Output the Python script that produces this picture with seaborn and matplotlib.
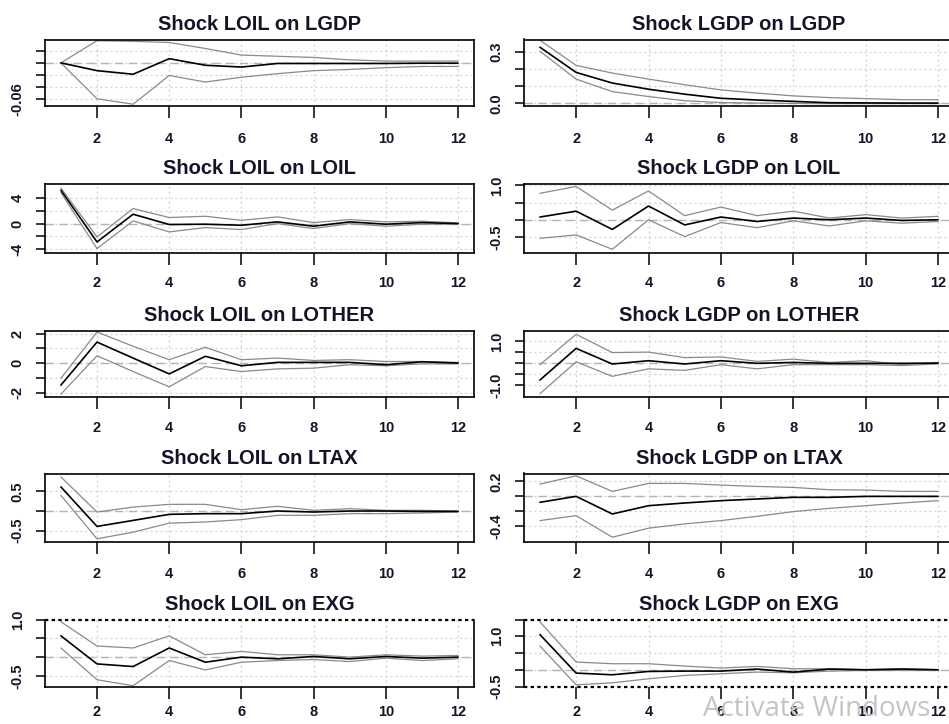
import matplotlib
matplotlib.use("Agg")
import matplotlib.pyplot as plt
import seaborn as sns

# Impulse responses (point estimate + lower/upper bands), horizons 1..12
horizon = list(range(1, 13))

loil_lgdp = [0.0, -0.013, -0.019, 0.007, -0.004, -0.007, -0.001, -0.001, -0.001, -0.001, -0.0005, -0.0005]
loil_lgdp_lo = [0.0, -0.060, -0.069, -0.021, -0.032, -0.024, -0.018, -0.013, -0.011, -0.008, -0.006, -0.006]
loil_lgdp_hi = [0.0, 0.037, 0.036, 0.034, 0.024, 0.013, 0.011, 0.009, 0.005, 0.003, 0.003, 0.003]

lgdp_lgdp = [0.327, 0.180, 0.118, 0.082, 0.053, 0.029, 0.019, 0.011, 0.003, 0.002, 0.001, 0.001]
lgdp_lgdp_lo = [0.304, 0.141, 0.068, 0.039, 0.015, 0.004, 0.001, -0.001, -0.002, -0.002, -0.002, -0.002]
lgdp_lgdp_hi = [0.368, 0.221, 0.176, 0.141, 0.108, 0.078, 0.059, 0.043, 0.033, 0.027, 0.021, 0.021]

loil_loil = [5.15, -2.84, 1.44, -0.15, -0.10, -0.26, 0.26, -0.41, 0.26, -0.10, 0.15, 0.0]
loil_loil_lo = [4.80, -3.87, 0.41, -1.29, -0.62, -0.93, 0.0, -0.77, 0.0, -0.41, -0.10, -0.10]
loil_loil_hi = [5.50, -2.06, 2.32, 0.93, 1.13, 0.50, 1.03, 0.15, 0.62, 0.26, 0.36, 0.10]

lgdp_loil = [0.08, 0.25, -0.28, 0.40, -0.15, 0.08, -0.05, 0.05, 0.0, 0.05, -0.02, 0.0]
lgdp_loil_lo = [-0.54, -0.44, -0.86, 0.0, -0.49, -0.08, -0.23, -0.03, -0.18, -0.03, -0.10, -0.05]
lgdp_loil_hi = [0.77, 0.97, 0.28, 0.84, 0.12, 0.37, 0.12, 0.25, 0.05, 0.15, 0.05, 0.10]

loil_lother = [-1.49, 1.42, 0.34, -0.73, 0.46, -0.18, 0.05, 0.05, 0.05, -0.11, 0.09, 0.0]
loil_lother_lo = [-2.10, 0.50, -0.57, -1.60, -0.23, -0.57, -0.39, -0.34, -0.11, -0.18, -0.05, -0.05]
loil_lother_hi = [-1.03, 2.10, 1.14, 0.23, 1.07, 0.23, 0.34, 0.18, 0.23, 0.11, 0.11, 0.05]

lgdp_lother = [-0.76, 0.68, -0.03, 0.12, -0.03, 0.12, 0.0, 0.04, 0.0, 0.0, 0.0, 0.01]
lgdp_lother_lo = [-1.38, 0.07, -0.59, -0.25, -0.32, -0.06, -0.25, -0.06, -0.06, -0.06, -0.10, -0.03]
lgdp_lother_hi = [-0.06, 1.32, 0.49, 0.51, 0.26, 0.29, 0.09, 0.19, 0.04, 0.12, -0.06, 0.04]

loil_ltax = [0.615, -0.393, -0.24, -0.085, -0.068, -0.068, 0.0, -0.026, 0.0, 0.0, -0.01, -0.01]
loil_ltax_lo = [0.40, -0.71, -0.54, -0.31, -0.28, -0.22, -0.11, -0.11, -0.068, -0.068, -0.05, -0.026]
loil_ltax_hi = [0.87, -0.026, 0.10, 0.17, 0.17, 0.034, 0.12, 0.017, 0.06, 0.017, 0.017, 0.0]

lgdp_ltax = [-0.079, 0.0, -0.234, -0.124, -0.088, -0.057, -0.035, -0.013, -0.013, 0.0, 0.0, 0.0]
lgdp_ltax_lo = [-0.322, -0.256, -0.543, -0.423, -0.366, -0.322, -0.265, -0.203, -0.159, -0.124, -0.088, -0.057]
lgdp_ltax_hi = [0.163, 0.273, 0.066, 0.172, 0.172, 0.150, 0.132, 0.119, 0.088, 0.084, 0.066, 0.066]

loil_exg = [0.566, -0.18, -0.25, 0.243, -0.135, 0.0, -0.045, 0.018, -0.045, 0.018, -0.027, 0.0]
loil_exg_lo = [0.243, -0.60, -0.76, -0.09, -0.34, -0.135, -0.09, -0.063, -0.117, -0.027, -0.09, -0.045]
loil_exg_hi = [0.94, 0.296, 0.243, 0.566, 0.063, 0.153, 0.063, 0.063, 0.0, 0.063, 0.027, 0.045]

lgdp_exg = [1.05, -0.10, -0.15, -0.05, -0.04, -0.04, 0.02, -0.07, 0.02, 0.0, 0.02, 0.0]
lgdp_exg_lo = [0.71, -0.45, -0.39, -0.27, -0.17, -0.12, -0.07, -0.09, -0.04, -0.02, -0.02, -0.02]
lgdp_exg_hi = [1.43, 0.23, 0.18, 0.18, 0.11, 0.05, 0.10, 0.03, 0.03, 0.0, 0.03, 0.0]

sns.set_style("white")
plt.rcParams["font.family"] = ["Liberation Sans", "DejaVu Sans"]

W, H = 949, 724
fig = plt.figure(figsize=(W / 100, H / 100), dpi=100)

# column pixel extents (right column runs off the canvas like the screenshot)
cols = [(45, 474), (524, 954)]
rows = [(39.5, 106), (183.5, 253), (331, 397), (473.5, 541.5), (619.5, 686.5)]
xpads = [10, 8, 9, 10, 5]

panels = [
    # (title, mid, lo, hi, ylim, yticks, ylabels, dotted, row, col)
    ("Shock LOIL on LGDP", loil_lgdp, loil_lgdp_lo, loil_lgdp_hi, (-0.072, 0.039),
     [-0.06, -0.04, -0.02, 0.0, 0.02], ["-0.06", "", "", "", ""], [], 0, 0),
    ("Shock LGDP on LGDP", lgdp_lgdp, lgdp_lgdp_lo, lgdp_lgdp_hi, (-0.016, 0.372),
     [0.0, 0.1, 0.2, 0.3], ["0.0", "", "", "0.3"], [], 0, 1),
    ("Shock LOIL on LOIL", loil_loil, loil_loil_lo, loil_loil_hi, (-4.55, 6.19),
     [-4, -2, 0, 2, 4], ["-4", "", "0", "", "4"], [], 1, 0),
    ("Shock LGDP on LOIL", lgdp_loil, lgdp_loil_lo, lgdp_loil_hi, (-0.967, 1.056),
     [-0.5, 0.0, 0.5, 1.0], ["-0.5", "", "", "1.0"], [], 1, 1),
    ("Shock LOIL on LOTHER", loil_lother, loil_lother_lo, loil_lother_hi, (-2.29, 2.17),
     [-2, -1, 0, 1, 2], ["-2", "", "0", "", "2"], [], 2, 0),
    ("Shock LGDP on LOTHER", lgdp_lother, lgdp_lother_lo, lgdp_lother_hi, (-1.53, 1.47),
     [-1.0, -0.5, 0.0, 0.5, 1.0], ["-1.0", "", "", "", "1.0"], [], 2, 1),
    ("Shock LOIL on LTAX", loil_ltax, loil_ltax_lo, loil_ltax_hi, (-0.778, 0.957),
     [-0.5, 0.0, 0.5], ["-0.5", "", "0.5"], [], 3, 0),
    ("Shock LGDP on LTAX", lgdp_ltax, lgdp_ltax_lo, lgdp_ltax_hi, (-0.60, 0.304),
     [-0.4, -0.2, 0.0, 0.2], ["-0.4", "", "", "0.2"], [], 3, 1),
    ("Shock LOIL on EXG", loil_exg, loil_exg_lo, loil_exg_hi, (-0.78, 1.0),
     [-0.5, 0.0, 0.5, 1.0], ["-0.5", "", "", "1.0"], [1.0], 4, 0),
    ("Shock LGDP on EXG", lgdp_exg, lgdp_exg_lo, lgdp_exg_hi, (-0.5, 1.5),
     [-0.5, 0.0, 0.5, 1.0, 1.5], ["-0.5", "", "", "1.0", ""], [-0.5, 1.5], 4, 1),
]

txt = "#141428"
for title, mid, lo, hi, ylim, yt, yl, dotted, r, c in panels:
    x0, x1 = cols[c]
    t, b = rows[r]
    ax = fig.add_axes([x0 / W, 1 - b / H, (x1 - x0) / W, (b - t) / H])

    ax.axhline(0, color="#b4b4b4", ls=(0, (6, 4)), lw=1.0, zorder=1)
    sns.lineplot(x=horizon, y=hi, color="#8a8a8a", lw=0.9, ax=ax, zorder=2)
    sns.lineplot(x=horizon, y=lo, color="#8a8a8a", lw=0.9, ax=ax, zorder=2)
    sns.lineplot(x=horizon, y=mid, color="black", lw=1.2, ax=ax, zorder=3)

    ax.set_xlim(0.56, 12.44)
    ax.set_ylim(*ylim)
    ax.set_xticks([2, 4, 6, 8, 10, 12])
    ax.set_yticks(yt)
    ax.set_yticklabels(yl)
    ax.grid(True, ls=(0, (1.5, 2.5)), color="#cfcfcf", lw=0.9)
    ax.set_axisbelow(True)

    for s in ax.spines.values():
        s.set_color("black")
        s.set_linewidth(1.2)
    for d in dotted:
        ax.axhline(d, color="black", ls=(0, (1.5, 1.5)), lw=1.6, clip_on=False, zorder=5)
        if d >= ylim[1]:
            ax.spines["top"].set_visible(False)
        else:
            ax.spines["bottom"].set_visible(False)

    ax.tick_params(axis="x", length=8.5, width=1.1, pad=xpads[r], labelsize=10.5,
                   colors="black", labelcolor=txt, bottom=True)
    ax.tick_params(axis="y", length=6.5, width=1.1, pad=8, labelsize=10.5,
                   colors="black", labelcolor=txt, left=True)
    for lab in ax.get_xticklabels():
        lab.set_fontweight("bold")
    for lab in ax.get_yticklabels():
        lab.set_rotation(90)
        lab.set_va("center")
        lab.set_fontweight("bold")
    ax.set_xlabel("")
    ax.set_ylabel("")
    ax.set_title(title, fontsize=14.5, fontweight="bold", color=txt, pad=7)

fig.text(703 / W, 1 - 716 / H, "Activate Windows", fontsize=20, color="#c4c4c4",
         family=["Open Sans", "DejaVu Sans"], ha="left", va="baseline")

fig.savefig("out.png", dpi=100)
